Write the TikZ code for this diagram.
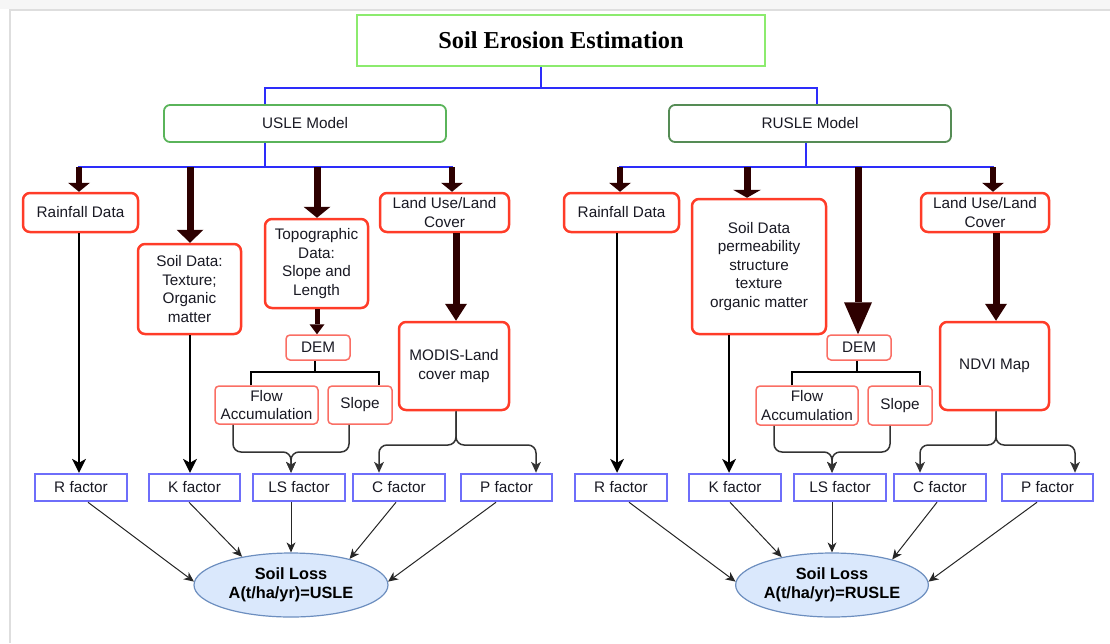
\documentclass[tikz,border=0pt]{standalone}
\usepackage{fontspec}
\setmainfont{Liberation Sans}
\newfontfamily\serifbold{Liberation Serif}
\usetikzlibrary{arrows.meta,shapes.geometric}
\definecolor{titlegreen}{RGB}{140,235,110}
\definecolor{usgreen}{RGB}{90,180,90}
\definecolor{rusgreen}{RGB}{85,140,85}
\definecolor{busblue}{RGB}{45,45,250}
\definecolor{boxred}{RGB}{255,60,40}
\definecolor{lightred}{RGB}{250,110,100}
\definecolor{factblue}{RGB}{110,110,250}
\definecolor{maroon}{RGB}{45,0,0}
\definecolor{ellfill}{RGB}{218,232,252}
\definecolor{elldraw}{RGB}{108,142,191}
\definecolor{txt}{RGB}{25,25,35}
\definecolor{framegray}{RGB}{222,222,222}
\tikzset{
  base/.style={inner sep=0pt, align=center, text=txt, font=\fontsize{15.3}{18.5}\selectfont},
  titlebox/.style={draw=titlegreen, line width=2pt, inner sep=0pt, text=black,
    font=\serifbold\bfseries\fontsize{24.3}{28}\selectfont},
  modelbox/.style={base, draw=#1, line width=1.8pt, rounded corners=6pt},
  databox/.style={base, draw=boxred, line width=2.5pt, rounded corners=7pt, fill=white},
  smallbox/.style={base, draw=lightred, line width=1.5pt, rounded corners=4pt, fill=white},
  factor/.style={base, draw=factblue, line width=2.5pt, fill=white},
  lossnode/.style={ellipse, draw=elldraw, fill=ellfill, line width=1.2pt, inner sep=0pt,
    align=center, text=black, font=\bfseries\fontsize{16.3}{19.5}\selectfont},
  busline/.style={draw=busblue, line width=2.3pt},
  fatarrow/.style n args={3}{draw=maroon, line width=#1,
    -{Triangle[width=#2,length=#3,line width=0pt]}},
  medarrow/.style={draw=black, line width=2.5pt,
    -{Stealth[width=14pt,length=14pt,inset=4pt,line width=0pt]}},
  thinarrow/.style={draw=black!85, line width=1pt,
    -{Stealth[width=9pt,length=10pt,inset=3pt,line width=0pt]}},
  bracearrow/.style={draw=black!80, line width=1.5pt, rounded corners=8pt,
    -{Stealth[width=10pt,length=11pt,inset=3pt,line width=0pt]}},
  demlink/.style={draw=black, line width=2.5pt},
}
\begin{document}
\begin{tikzpicture}[x=1pt,y=-1pt]
\useasboundingbox (0,0) rectangle (1110,643);
\fill[gray!7] (0,0) rectangle (1110,9);
\draw[framegray, line width=2pt] (10,643) -- (10,10) -- (1110,10);

% ---------------- top ----------------
\node[titlebox, minimum width=408pt, minimum height=51pt] (title) at (561,40.5) {Soil Erosion Estimation};
\node[modelbox=usgreen, minimum width=282pt, minimum height=37pt] (usle) at (305,123.5) {USLE Model};
\node[modelbox=rusgreen, minimum width=282pt, minimum height=37pt] (rusle) at (810,123.5) {RUSLE Model};

\coordinate (tj) at (541,88);
\coordinate (tl) at (265,88);
\coordinate (tr) at (817,88);
\draw[busline] (title.south -| tj) -- (tj);
\draw[busline] (usle.north -| tl) -- (tl) -- (tr) -- (rusle.north -| tr);

% ---------------- USLE nodes ----------------
\node[databox, minimum width=115pt, minimum height=39pt] (rain1) at (80.5,212.5) {Rainfall Data};
\node[databox, minimum width=103pt, minimum height=90pt] (soil1) at (189.5,289) {Soil Data:\\Texture;\\Organic\\matter};
\node[databox, minimum width=103pt, minimum height=89pt] (topo1) at (316.5,263.5) {Topographic\\Data:\\Slope and\\Length};
\node[databox, minimum width=129pt, minimum height=39pt] (land1) at (444.5,212.5) {Land Use/Land\\Cover};
\node[databox, minimum width=110pt, minimum height=88pt] (modis) at (454,366) {MODIS-Land\\cover map};
\node[smallbox, minimum width=64pt, minimum height=25pt] (dem1) at (318,347.5) {DEM};
\node[smallbox, minimum width=103pt, minimum height=38pt] (flow1) at (266.5,405) {Flow\\Accumulation};
\node[smallbox, minimum width=64pt, minimum height=38pt] (slope1) at (360,405) {Slope};

\node[factor, minimum width=92pt, minimum height=27pt] (R1) at (81,487.5) {R factor};
\node[factor, minimum width=91pt, minimum height=27pt] (K1) at (194.5,487.5) {K factor};
\node[factor, minimum width=92pt, minimum height=27pt] (LS1) at (299,487.5) {LS factor};
\node[factor, minimum width=92pt, minimum height=27pt] (C1) at (399,487.5) {C factor};
\node[factor, minimum width=91pt, minimum height=27pt] (P1) at (506.5,487.5) {P factor};
\node[lossnode, minimum width=194pt, minimum height=64pt] (loss1) at (291,585) {Soil Loss\\A(t/ha/yr)=USLE};

% ---------------- RUSLE nodes ----------------
\node[databox, minimum width=115pt, minimum height=39pt] (rain2) at (621.5,212.5) {Rainfall Data};
\node[databox, minimum width=134pt, minimum height=135pt] (soil2) at (759,266.5) {Soil Data\\permeability\\structure\\texture\\organic matter};
\node[databox, minimum width=128pt, minimum height=39pt] (land2) at (985,212.5) {Land Use/Land\\Cover};
\node[databox, minimum width=109pt, minimum height=88pt] (ndvi) at (994.5,366) {NDVI Map};
\node[smallbox, minimum width=64pt, minimum height=25pt] (dem2) at (859,347.5) {DEM};
\node[smallbox, minimum width=102pt, minimum height=39pt] (flow2) at (807,405.5) {Flow\\Accumulation};
\node[smallbox, minimum width=64pt, minimum height=39pt] (slope2) at (900,405.5) {Slope};

\node[factor, minimum width=92pt, minimum height=27pt] (R2) at (621,487.5) {R factor};
\node[factor, minimum width=92pt, minimum height=27pt] (K2) at (735,487.5) {K factor};
\node[factor, minimum width=92pt, minimum height=27pt] (LS2) at (840,487.5) {LS factor};
\node[factor, minimum width=92pt, minimum height=27pt] (C2) at (940,487.5) {C factor};
\node[factor, minimum width=91pt, minimum height=27pt] (P2) at (1047.5,487.5) {P factor};
\node[lossnode, minimum width=192pt, minimum height=64pt] (loss2) at (832,585) {Soil Loss\\A(t/ha/yr)=RUSLE};

% ---------------- USLE connectors ----------------
\coordinate (ub) at (265,167);
\coordinate (b1) at (79,167);
\coordinate (b2) at (190,167);
\coordinate (b3) at (317,167);
\coordinate (b4) at (452,167);
\draw[busline] (usle.south -| ub) -- (ub);
\draw[busline] ([xshift=-1.25pt]b1) -- ([xshift=1.25pt]b4);
\draw[fatarrow={6pt}{22pt}{9pt}] (b1) -- (rain1.north -| b1);
\draw[fatarrow={7pt}{27pt}{13pt}] (b2) -- (soil1.north -| b2);
\draw[fatarrow={7pt}{27pt}{11pt}] (b3) -- (topo1.north -| b3);
\draw[fatarrow={6pt}{22pt}{9pt}] (b4) -- (land1.north -| b4);

\coordinate (lm1) at (456,300);
\draw[fatarrow={7pt}{22pt}{17pt}] (land1.south -| lm1) -- (modis.north -| lm1);
\coordinate (tm1) at (317,300);
\draw[fatarrow={5pt}{15pt}{10pt}] (topo1.south -| tm1) -- (dem1.north -| tm1);

\coordinate (d1) at (315,372);
\coordinate (d1L) at (251,372);
\coordinate (d1R) at (379,372);
\draw[demlink] (dem1.south -| d1) -- (d1);
\draw[demlink] (flow1.north -| d1L) -- (d1L) -- (d1R) -- (slope1.north -| d1R);

\coordinate (j1) at (291,452);
\draw[bracearrow] ([xshift=-33.5pt]flow1.south) |- (j1) -- (LS1.north -| j1);
\draw[bracearrow] ([xshift=-11pt]slope1.south) |- (j1) -- (LS1.north -| j1);

\coordinate (mj) at (456,445);
\coordinate (mc) at (379,445);
\coordinate (mp) at (536,445);
\draw[bracearrow] (modis.south -| mj) |- (mc) -- (C1.north -| mc);
\draw[bracearrow] (modis.south -| mj) |- (mp) -- (P1.north -| mp);

\coordinate (rr1) at (79,300);
\coordinate (sk1) at (190,300);
\draw[medarrow] (rain1.south -| rr1) -- (R1.north -| rr1);
\draw[medarrow] (soil1.south -| sk1) -- (K1.north -| sk1);

\draw[thinarrow] ([xshift=7pt]R1.south) -- (loss1.178);
\draw[thinarrow] ([xshift=-5.5pt]K1.south) -- (loss1.150.7);
\draw[thinarrow] ([xshift=-8pt]LS1.south) -- (loss1.north);
\draw[thinarrow] ([xshift=-3pt]C1.south) -- (loss1.24);
\draw[thinarrow] ([xshift=-10.5pt]P1.south) -- (loss1.2);

% ---------------- RUSLE connectors ----------------
\coordinate (rb) at (806,167);
\coordinate (c1) at (620,167);
\coordinate (c2) at (747,167);
\coordinate (c3) at (858,167);
\coordinate (c4) at (993,167);
\draw[busline] (rusle.south -| rb) -- (rb);
\draw[busline] ([xshift=-1.25pt]c1) -- ([xshift=1.25pt]c4);
\draw[fatarrow={6pt}{22pt}{9pt}] (c1) -- (rain2.north -| c1);
\draw[fatarrow={7pt}{28pt}{8pt}] (c2) -- (soil2.north -| c2);
\draw[fatarrow={7pt}{28pt}{32pt}] (c3) -- (dem2.north -| c3);
\draw[fatarrow={6pt}{22pt}{9pt}] (c4) -- (land2.north -| c4);

\coordinate (lm2) at (996,300);
\draw[fatarrow={7pt}{22pt}{17pt}] (land2.south -| lm2) -- (ndvi.north -| lm2);

\coordinate (d2) at (857,372);
\coordinate (d2L) at (792,372);
\coordinate (d2R) at (920,372);
\draw[demlink] (dem2.south -| d2) -- (d2);
\draw[demlink] (flow2.north -| d2L) -- (d2L) -- (d2R) -- (slope2.north -| d2R);

\coordinate (j2) at (832,452);
\draw[bracearrow] ([xshift=-33pt]flow2.south) |- (j2) -- (LS2.north -| j2);
\draw[bracearrow] ([xshift=-10pt]slope2.south) |- (j2) -- (LS2.north -| j2);

\coordinate (nj) at (996,445);
\coordinate (nc) at (920,445);
\coordinate (np) at (1075,445);
\draw[bracearrow] (ndvi.south -| nj) |- (nc) -- (C2.north -| nc);
\draw[bracearrow] (ndvi.south -| nj) |- (np) -- (P2.north -| np);

\coordinate (rr2) at (617,300);
\coordinate (sk2) at (729,300);
\draw[medarrow] (rain2.south -| rr2) -- (R2.north -| rr2);
\draw[medarrow] (soil2.south -| sk2) -- (K2.north -| sk2);

\draw[thinarrow] ([xshift=8pt]R2.south) -- (loss2.178);
\draw[thinarrow] ([xshift=-5pt]K2.south) -- (loss2.151.7);
\draw[thinarrow] ([xshift=-8pt]LS2.south) -- (loss2.north);
\draw[thinarrow] ([xshift=-3pt]C2.south) -- (loss2.23.8);
\draw[thinarrow] ([xshift=-10.5pt]P2.south) -- (loss2.2);
\end{tikzpicture}
\end{document}
